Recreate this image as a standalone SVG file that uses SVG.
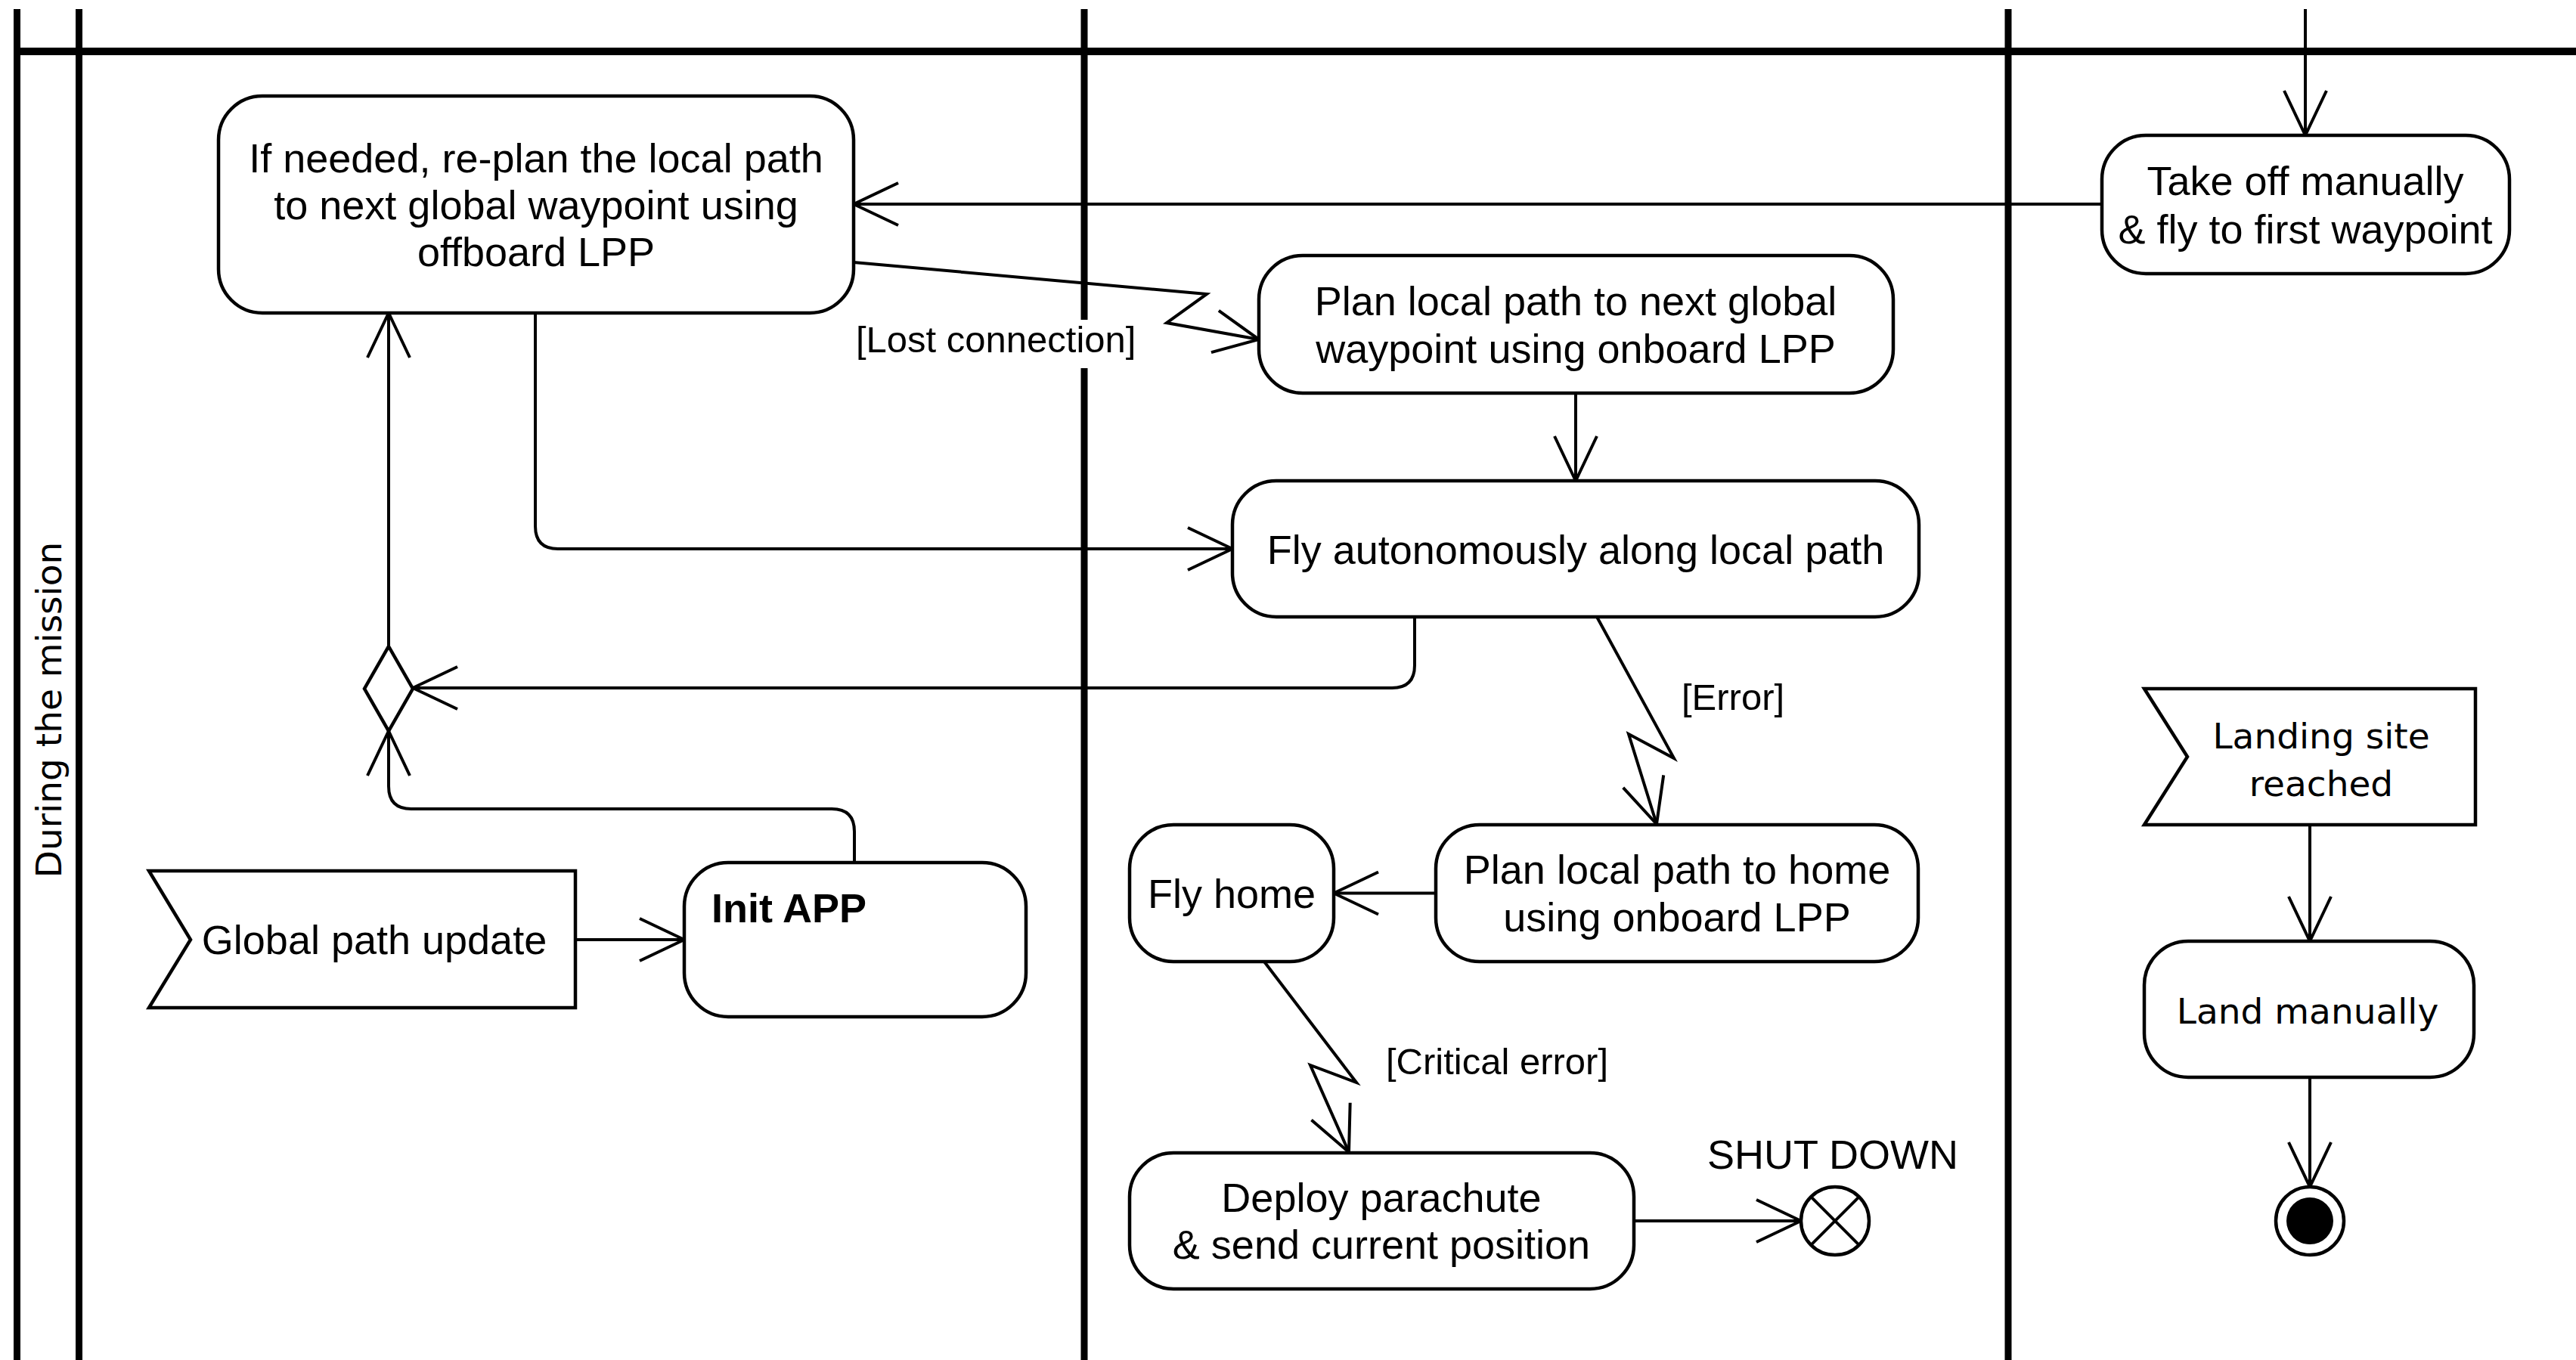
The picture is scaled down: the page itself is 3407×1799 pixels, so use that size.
<svg xmlns="http://www.w3.org/2000/svg" width="3407" height="1799" viewBox="0 0 3407 1799">
  <style>
    .lane { stroke: #000; stroke-width: 9; fill: none; }
    .act { fill: #fff; stroke: #000; stroke-width: 4.5; }
    .edge { fill: none; stroke: #000; stroke-width: 4; }
    .t { font-family: "Liberation Sans", Arial, sans-serif; font-size: 54px; fill: #000; text-anchor: middle; }
    .tb { font-family: "Liberation Sans", Arial, sans-serif; font-size: 54px; font-weight: bold; fill: #000; }
    .dv { font-family: "DejaVu Sans", Verdana, sans-serif; font-size: 47px; fill: #000; text-anchor: middle; }
    .lbl { font-family: "Liberation Sans", Arial, sans-serif; font-size: 49px; fill: #000; }
  </style>
  <defs>
    <marker id="open" viewBox="-64 -32 68 64" refX="0" refY="0" markerWidth="68" markerHeight="64" markerUnits="userSpaceOnUse" orient="auto">
      <path d="M-59,-28 L0,0 L-59,28" fill="none" stroke="#000" stroke-width="4"/>
    </marker>
  </defs>

  <rect width="3407" height="1799" fill="#fff"/>

  <!-- swimlane frame -->
  <g id="lanes">
    <line class="lane" x1="22.5" y1="12" x2="22.5" y2="1799"/>
    <line class="lane" x1="104.5" y1="12" x2="104.5" y2="1799"/>
    <line class="lane" x1="1434" y1="12" x2="1434" y2="1799"/>
    <line class="lane" x1="2656" y1="12" x2="2656" y2="1799"/>
    <line class="lane" x1="18" y1="68" x2="3407" y2="68" style="stroke-width:10"/>
    <text class="dv" transform="translate(81,939) rotate(-90)">During the mission</text>
  </g>

  <!-- connectors -->
  <g id="connectors">
    <line class="edge" x1="3049" y1="12" x2="3049" y2="179" marker-end="url(#open)"/>
    <line class="edge" x1="2780" y1="270" x2="1129" y2="270" marker-end="url(#open)"/>
    <polyline class="edge" points="1129,347 1596,389 1543,427 1665,449" marker-end="url(#open)"/>
    <line class="edge" x1="2084" y1="520" x2="2084" y2="636" marker-end="url(#open)"/>
    <path class="edge" d="M708,414 V696 Q708,726 738,726 H1630" marker-end="url(#open)"/>
    <path class="edge" d="M1871,816 V880 Q1871,910 1841,910 H546" marker-end="url(#open)"/>
    <line class="edge" x1="514" y1="855" x2="514" y2="414" marker-end="url(#open)"/>
    <path class="edge" d="M1130,1141 V1100 Q1130,1070 1100,1070 H544 Q514,1070 514,1040 V967" marker-end="url(#open)"/>
    <line class="edge" x1="761" y1="1243" x2="905" y2="1243" marker-end="url(#open)"/>
    <polyline class="edge" points="2112,816 2214,1003 2154,971 2191,1090" marker-end="url(#open)"/>
    <line class="edge" x1="1899" y1="1181.5" x2="1764" y2="1181.5" marker-end="url(#open)"/>
    <polyline class="edge" points="1672,1272 1794,1432 1733,1409 1784,1524" marker-end="url(#open)"/>
    <line class="edge" x1="2161" y1="1615" x2="2382" y2="1615" marker-end="url(#open)"/>
    <line class="edge" x1="3055" y1="1091" x2="3055" y2="1245" marker-end="url(#open)"/>
    <line class="edge" x1="3055" y1="1425" x2="3055" y2="1570" marker-end="url(#open)"/>

    <rect x="1128" y="423" width="380" height="64" fill="#fff"/>
    <text class="lbl" x="1132" y="466">[Lost connection]</text>
    <text class="lbl" x="2224" y="939">[Error]</text>
    <text class="lbl" x="1833" y="1421">[Critical error]</text>
  </g>

  <!-- nodes -->
  <g id="replan-offboard">
    <rect class="act" x="289" y="127" width="840" height="287" rx="58" ry="58"/>
    <text class="t" x="709" y="228">If needed, re-plan the local path</text>
    <text class="t" x="709" y="290">to next global waypoint using</text>
    <text class="t" x="709" y="352">offboard LPP</text>
  </g>

  <g id="take-off">
    <rect class="act" x="2780" y="179" width="539" height="183" rx="58" ry="58"/>
    <text class="t" x="3049" y="258">Take off manually</text>
    <text class="t" x="3049" y="322">&amp; fly to first waypoint</text>
  </g>

  <g id="plan-onboard">
    <rect class="act" x="1665" y="338" width="839" height="182" rx="58" ry="58"/>
    <text class="t" x="2084" y="417">Plan local path to next global</text>
    <text class="t" x="2084" y="480">waypoint using onboard LPP</text>
  </g>

  <g id="fly-autonomously">
    <rect class="act" x="1630" y="636" width="908" height="180" rx="58" ry="58"/>
    <text class="t" x="2084" y="746">Fly autonomously along local path</text>
  </g>

  <g id="merge">
    <polygon class="act" points="514,855 546,911 514,967 482,911"/>
  </g>

  <g id="global-path-update">
    <polygon class="act" points="197,1152 761,1152 761,1333 197,1333 252,1243"/>
    <text class="t" x="495" y="1262">Global path update</text>
  </g>

  <g id="init-app">
    <rect class="act" x="905" y="1141" width="452" height="204" rx="58" ry="58"/>
    <text class="tb" x="941" y="1220">Init APP</text>
  </g>

  <g id="plan-home">
    <rect class="act" x="1899" y="1091" width="638" height="181" rx="58" ry="58"/>
    <text class="t" x="2218" y="1169">Plan local path to home</text>
    <text class="t" x="2218" y="1232">using onboard LPP</text>
  </g>

  <g id="fly-home">
    <rect class="act" x="1494" y="1091" width="270" height="181" rx="58" ry="58"/>
    <text class="t" x="1629" y="1201">Fly home</text>
  </g>

  <g id="deploy-parachute">
    <rect class="act" x="1494" y="1525" width="667" height="180" rx="58" ry="58"/>
    <text class="t" x="1827" y="1603">Deploy parachute</text>
    <text class="t" x="1827" y="1665">&amp; send current position</text>
  </g>

  <g id="shut-down">
    <circle class="act" cx="2427" cy="1615" r="45"/>
    <line class="edge" x1="2395.2" y1="1583.2" x2="2458.8" y2="1646.8"/>
    <line class="edge" x1="2458.8" y1="1583.2" x2="2395.2" y2="1646.8"/>
    <text class="t" x="2424" y="1546">SHUT DOWN</text>
  </g>

  <g id="landing-site-reached">
    <polygon class="act" points="2836,911 3274,911 3274,1091 2836,1091 2893,1001"/>
    <text class="dv" x="3070" y="990">Landing site</text>
    <text class="dv" x="3070" y="1053">reached</text>
  </g>

  <g id="land-manually">
    <rect class="act" x="2836" y="1245" width="436" height="180" rx="58" ry="58"/>
    <text class="dv" x="3052" y="1354">Land manually</text>
  </g>

  <g id="final">
    <circle class="act" cx="3055" cy="1615" r="45"/>
    <circle cx="3055" cy="1615" r="31" fill="#000"/>
  </g>
</svg>
